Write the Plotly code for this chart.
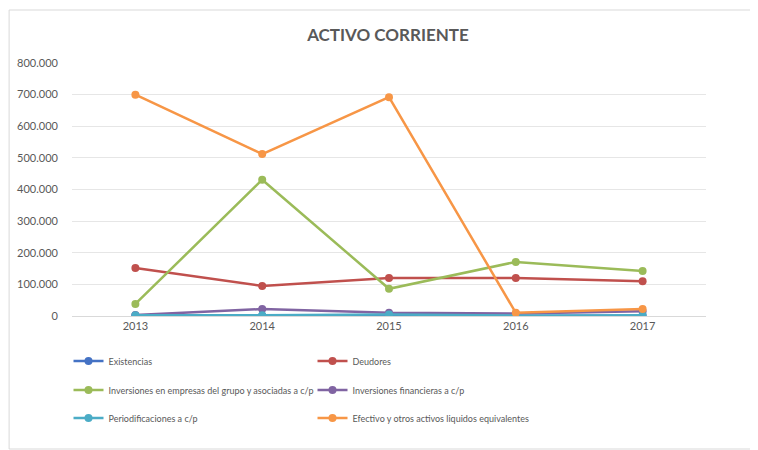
import plotly.graph_objects as go

years = ["2013", "2014", "2015", "2016", "2017"]
series_names = [
    "Existencias",
    "Deudores",
    "Inversiones en empresas del grupo y asociadas a c/p",
    "Inversiones financieras a c/p",
    "Periodificaciones a c/p",
    "Efectivo y otros activos liquidos equivalentes",
]
existencias = [500, 800, 600, 500, 700]
deudores = [152000, 95000, 120000, 120000, 110000]
inv_grupo = [38000, 431000, 86000, 171000, 142000]
inv_financieras = [3000, 22000, 10000, 8000, 15000]
periodificaciones = [2000, 2000, 5000, 1000, 2000]
efectivo = [700000, 512000, 692000, 10000, 22000]

values = [existencias, deudores, inv_grupo, inv_financieras, periodificaciones, efectivo]
colors = ["#4472C4", "#C0504D", "#9BBB59", "#8064A2", "#4BACC6", "#F79646"]
legend_ids = ["legend", "legend", "legend2", "legend2", "legend3", "legend3"]
y_ticks = [0, 100000, 200000, 300000, 400000, 500000, 600000, 700000, 800000]

FONT = "Lato, Open Sans, sans-serif"

fig = go.Figure()
for name, vals, col, lg in zip(series_names, values, colors, legend_ids):
    fig.add_trace(go.Scatter(
        x=years, y=vals, name=name, mode="lines+markers",
        line=dict(color=col, width=2.5),
        marker=dict(color=col, size=8),
        legend=lg,
    ))

# page has an 8px body margin; figure coordinates = reference - 8
W, H = 750, 442
L, R, T, B = 63.5, 51.5, 55, 134
pw, ph = W - L - R, H - T - B

def leg(yc):
    return dict(orientation="h", x=(60 - L) / pw, xanchor="left",
                y=(H - B - yc) / ph, yanchor="middle",
                entrywidth=199, entrywidthmode="pixels",
                itemwidth=30, bgcolor="rgba(0,0,0,0)",
                font=dict(size=9, color="#595959", family=FONT))

fig.update_layout(
    width=W, height=H,
    margin=dict(l=L, r=R, t=T, b=B, autoexpand=False),
    paper_bgcolor="white", plot_bgcolor="white",
    separators=",.",
    font=dict(family=FONT, color="#595959", size=11),
    title=dict(text="<b>ACTIVO CORRIENTE</b>", x=(380 - L) / pw, xref="paper",
               xanchor="center", y=1 - 27 / H, yanchor="middle",
               font=dict(size=17, color="#595959", family=FONT)),
    xaxis=dict(type="category", range=[-0.5, 4.5], showgrid=False,
               showline=True, linecolor="#D9D9D9", linewidth=1,
               ticks="", tickfont=dict(size=11, color="#595959")),
    yaxis=dict(range=[0, 800000], tickvals=y_ticks, tickformat=",",
               showgrid=True, gridcolor="#E6E6E6", gridwidth=1,
               zeroline=False, showline=False, ticks="",
               ticklabelstandoff=13,
               tickfont=dict(size=11, color="#595959")),
    showlegend=True,
    legend=leg(353),
    legend2=leg(382),
    legend3=leg(410),
    shapes=[dict(type="rect", xref="paper", yref="paper",
                 x0=(0.5 - L) / pw, x1=(749 - L) / pw,
                 y0=(H - B - 441) / ph, y1=(H - B - 2) / ph,
                 line=dict(color="#D9D9D9", width=1), layer="below")],
)

fig.write_html("out.html")
